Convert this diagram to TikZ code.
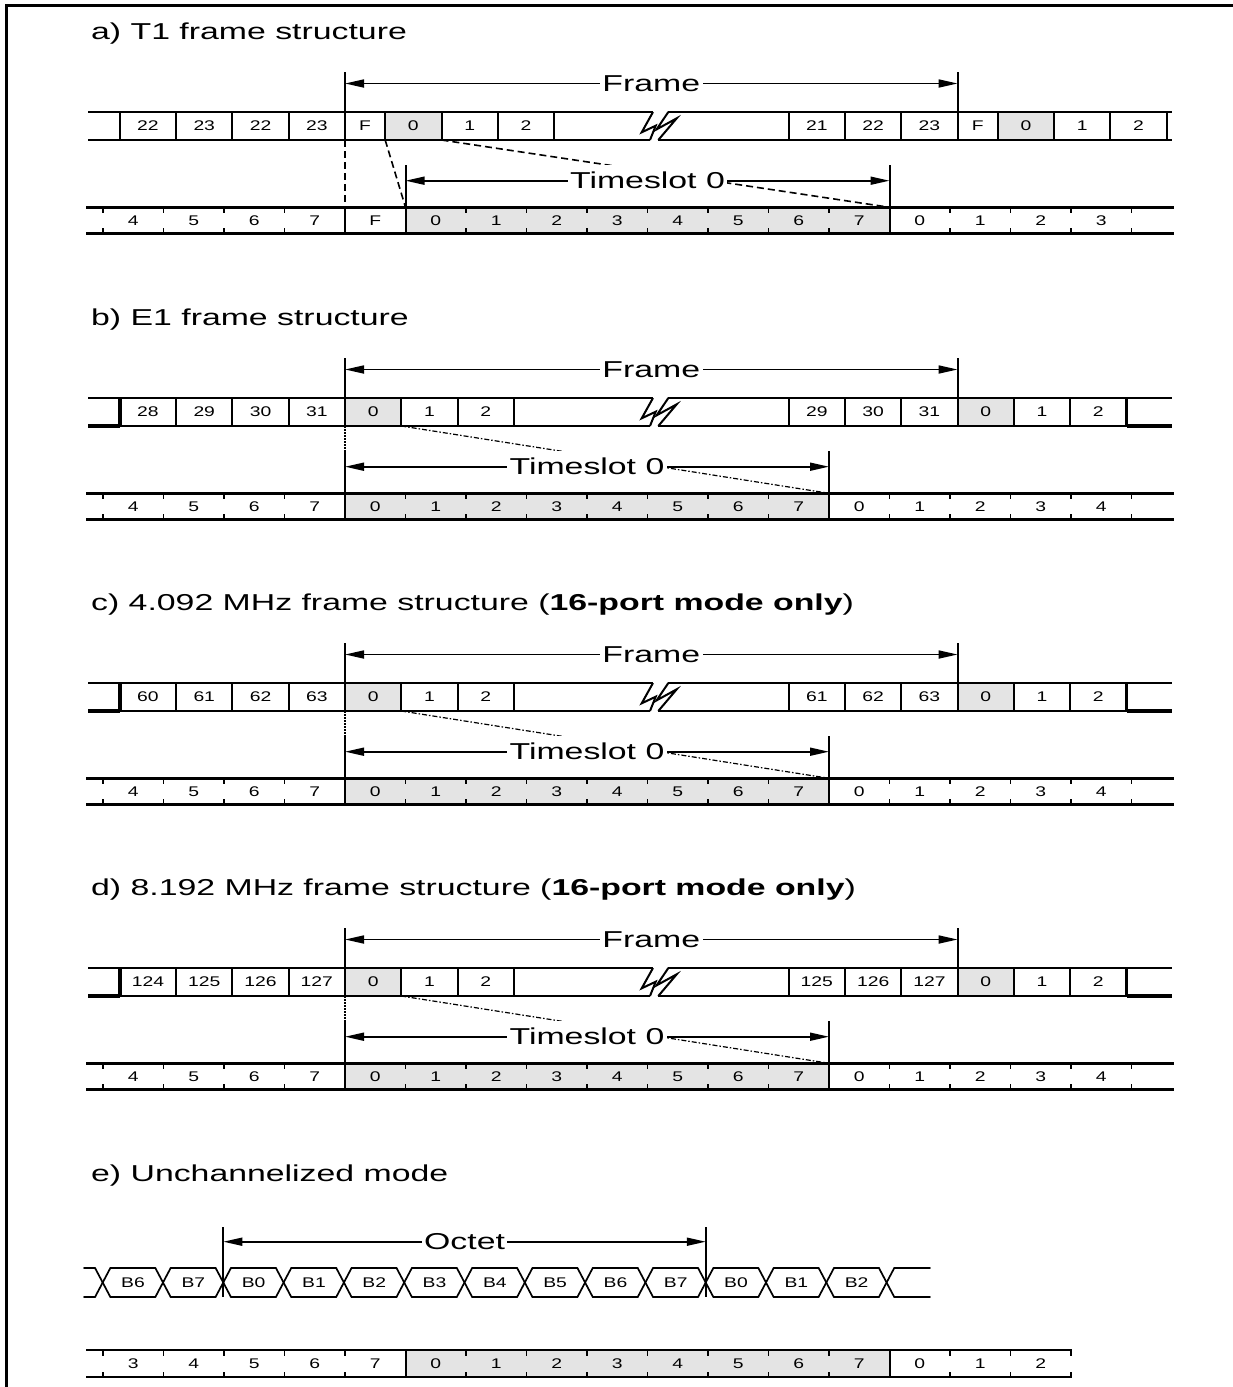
\documentclass[tikz,border=0pt]{standalone}
\usepackage{graphicx}
\usepackage{fontspec}
\setmainfont{Liberation Sans}
\usetikzlibrary{arrows.meta}
\definecolor{tsgray}{RGB}{228,228,228}
\newcommand{\hs}[1]{\scalebox{1.47}[1]{#1}}
\newcommand{\hc}[1]{\scalebox{1.38}[1]{#1}}
\newcommand{\bigfnt}{\fontsize{23}{27}\selectfont}
\newcommand{\smallfnt}{\fontsize{14}{16}\selectfont}
\tikzset{
  rowline/.style={line width=2.6pt},
  thickline/.style={line width=3.6pt},
  cellline/.style={line width=2pt},
  tickline/.style={line width=1.6pt},
  wave/.style={line width=1.7pt,line cap=round},
  dimarrow/.style={line width=1.7pt,{Triangle[length=19pt,width=8pt]}-{Triangle[length=19pt,width=8pt]}},
  lbl/.style={fill=white,inner xsep=2.5pt,inner ysep=7pt,font=\bigfnt},
  cell/.style={inner sep=0pt,font=\smallfnt},
  ttl/.style={anchor=base west,inner sep=0pt,font=\bigfnt},
  tsdash/.style={line width=1.6pt,dash pattern=on 7pt off 4pt},
  tsdashdot/.style={line width=1.2pt,dash pattern=on 5pt off 2pt on 1.5pt off 2pt},
  tsdot/.style={line width=1.2pt,dash pattern=on 1.5pt off 1.5pt},
}
% lightning break symbol
\newcommand{\bolt}[1]{%
  \draw[cellline,line join=miter] (653,112+#1) -- (641.7,132.3+#1) -- (655.7,125.7+#1) -- (650,140+#1);
  \draw[cellline,line join=miter] (668.3,112+#1) -- (656.7,129.3+#1) -- (676.7,118.3+#1) -- (658.3,140+#1);
}
% E1-type top row: #1 offset, #2 prefix, #3-#6 left labels, #7-#9 right labels
\newcommand{\eonetop}[9]{%
  \fill[tsgray] (345,112+#1) rectangle (401.3,140+#1);
  \fill[tsgray] (957.6,112+#1) rectangle (1013.9,140+#1);
  \draw[rowline] (88,112+#1) -- (653,112+#1);
  \draw[rowline] (668.3,112+#1) -- (1172,112+#1);
  \draw[rowline] (119.8,140+#1) -- (650,140+#1);
  \draw[rowline] (658.3,140+#1) -- (1126.5,140+#1);
  \draw[thickline] (88,140+#1) -- (119.8,140+#1);
  \draw[thickline] (1126.5,140+#1) -- (1172,140+#1);
  \bolt{#1}
  \foreach \x in {176.1,232.4,288.7,345,401.3,457.6,513.9,788.7,845,901.3,957.6,1013.9,1070.2}
    {\draw[cellline] (\x,112+#1) -- (\x,140+#1);}
  \draw[thickline] (119.8,112+#1) -- (119.8,140+#1);
  \draw[thickline] (1126.5,112+#1) -- (1126.5,140+#1);
  \node[cell] (#2t1) at (147.95,126+#1) {\hc{#3}};
  \node[cell] (#2t2) at (204.25,126+#1) {\hc{#4}};
  \node[cell] (#2t3) at (260.55,126+#1) {\hc{#5}};
  \node[cell] (#2t4) at (316.85,126+#1) {\hc{#6}};
  \node[cell] (#2t5) at (373.15,126+#1) {\hc{0}};
  \node[cell] (#2t6) at (429.45,126+#1) {\hc{1}};
  \node[cell] (#2t7) at (485.75,126+#1) {\hc{2}};
  \node[cell] (#2t8) at (816.85,126+#1) {\hc{#7}};
  \node[cell] (#2t9) at (873.15,126+#1) {\hc{#8}};
  \node[cell] (#2t10) at (929.45,126+#1) {\hc{#9}};
  \node[cell] (#2t11) at (985.75,126+#1) {\hc{0}};
  \node[cell] (#2t12) at (1042.05,126+#1) {\hc{1}};
  \node[cell] (#2t13) at (1098.35,126+#1) {\hc{2}};
}
% E1-type bit row and arrows: #1 offset, #2 prefix
\newcommand{\eonebits}[2]{%
  \fill[tsgray] (345,207.3+#1) rectangle (829,233.3+#1);
  \draw[rowline] (86,207.3+#1) -- (1174,207.3+#1);
  \draw[rowline] (86,233.3+#1) -- (1174,233.3+#1);
  \foreach \x in {103,163.5,224,284.5,405.5,466,526.5,587,647.5,708,768.5,889.5,950,1010.5,1071,1131.5}
    {\draw[tickline] (\x,207.3+#1) -- ++(0,5.5); \draw[tickline] (\x,233.3+#1) -- ++(0,-5.5);}
  \foreach \l [count=\i] in {4,5,6,7,0,1,2,3,4,5,6,7,0,1,2,3,4}
    {\node[cell] (#2b\i) at (72.75+60.5*\i,220.3+#1) {\hc{\l}};}
  \draw[cellline] (345,72+#1) -- (345,112+#1);
  \draw[cellline] (957.6,72+#1) -- (957.6,112+#1);
  \draw[tsdot] (345,140+#1) -- (345,165+#1);
  \draw[cellline] (345,165+#1) -- (345,233.3+#1);
  \draw[cellline] (829,165+#1) -- (829,233.3+#1);
  \draw[tsdashdot] (401.3,140+#1) -- (829,207.3+#1);
  \coordinate (#2fl) at (345,83.5+#1);
  \coordinate (#2fr) at (957.6,83.5+#1);
  \draw[dimarrow] (#2fl) -- (#2fr) node[lbl,midway] (#2frame) {\hs{Frame}};
  \coordinate (#2tl) at (345,180.7+#1);
  \coordinate (#2tr) at (829,180.7+#1);
  \draw[dimarrow] (#2tl) -- (#2tr) node[lbl,midway] (#2ts) {\hs{Timeslot 0}};
}
\begin{document}
\begin{tikzpicture}[x=1pt,y=-1pt]
\useasboundingbox (0,0) rectangle (1233,1387);
% border
\draw[line width=2.5pt] (6.5,1387) -- (6.5,5.5) -- (1233,5.5);

% ---------------- a) T1 ----------------
\node[ttl] (ta) at (91,39) {\hs{a) T1 frame structure}};
\fill[tsgray] (385.2,112) rectangle (441.5,140);
\fill[tsgray] (997.8,112) rectangle (1054.1,140);
\draw[rowline] (88,112) -- (653,112);
\draw[rowline] (668.3,112) -- (1172,112);
\draw[rowline] (88,140) -- (650,140);
\draw[rowline] (658.3,140) -- (1172,140);
\bolt{0}
\foreach \x in {119.8,176.1,232.4,288.7,345,385.2,441.5,497.8,554.1,788.7,845,901.3,957.6,997.8,1054.1,1110.4,1166.7}
  {\draw[cellline] (\x,112) -- (\x,140);}
\foreach \l/\x [count=\i] in {22/147.95,23/204.25,22/260.55,23/316.85,F/365.1,0/413.35,1/469.65,2/525.95,21/816.85,22/873.15,23/929.45,F/977.7,0/1025.95,1/1082.25,2/1138.55}
  {\node[cell] (at\i) at (\x,126) {\hc{\l}};}
\fill[tsgray] (405.5,207.3) rectangle (889.5,233.3);
\draw[rowline] (86,207.3) -- (1174,207.3);
\draw[rowline] (86,233.3) -- (1174,233.3);
\foreach \x in {103,163.5,224,284.5,466,526.5,587,647.5,708,768.5,829,950,1010.5,1071,1131.5}
  {\draw[tickline] (\x,207.3) -- ++(0,5.5); \draw[tickline] (\x,233.3) -- ++(0,-5.5);}
\foreach \l [count=\i] in {4,5,6,7,F,0,1,2,3,4,5,6,7,0,1,2,3}
  {\node[cell] (ab\i) at (72.75+60.5*\i,220.3) {\hc{\l}};}
\draw[cellline] (345,72) -- (345,112);
\draw[cellline] (957.6,72) -- (957.6,112);
\draw[cellline] (345,207.3) -- (345,233.3);
\draw[tsdash] (345,140) -- (345,207.3);
\draw[tsdash] (385.2,140) -- (405.5,207.3);
\draw[tsdash] (441.5,140) -- (889.5,207.3);
\draw[cellline] (405.5,165) -- (405.5,233.3);
\draw[cellline] (889.5,165) -- (889.5,233.3);
\coordinate (afl) at (345,83.5);
\coordinate (afr) at (957.6,83.5);
\draw[dimarrow] (afl) -- (afr) node[lbl,midway] (aframe) {\hs{Frame}};
\coordinate (atl) at (405.5,180.7);
\coordinate (atr) at (889.5,180.7);
\draw[dimarrow] (atl) -- (atr) node[lbl,midway] (ats) {\hs{Timeslot 0}};

% ---------------- b) E1 ----------------
\node[ttl] (tb) at (91,325) {\hs{b) E1 frame structure}};
\eonetop{286}{b}{28}{29}{30}{31}{29}{30}{31}
\eonebits{286}{b}

% ---------------- c) 4.092 MHz ----------------
\node[ttl] (tc) at (91,610) {\hs{c) 4.092 MHz frame structure (\textbf{16-port mode only})}};
\eonetop{571}{c}{60}{61}{62}{63}{61}{62}{63}
\eonebits{571}{c}

% ---------------- d) 8.192 MHz ----------------
\node[ttl] (td) at (91,895.5) {\hs{d) 8.192 MHz frame structure (\textbf{16-port mode only})}};
\eonetop{856}{d}{124}{125}{126}{127}{125}{126}{127}
\eonebits{856}{d}

% ---------------- e) Unchannelized ----------------
\node[ttl] (te) at (91,1181) {\hs{e) Unchannelized mode}};
\foreach \k in {0,...,13} {
  \pgfmathsetmacro{\cx}{102.7+60.3*\k}
  \draw[wave] (\cx-7.5,1268.3) -- (\cx+7.5,1296.7);
  \draw[wave] (\cx-7.5,1296.7) -- (\cx+7.5,1268.3);
}
\foreach \k in {0,...,12} {
  \pgfmathsetmacro{\cx}{102.7+60.3*\k}
  \draw[wave] (\cx+7.5,1268.3) -- (\cx+52.8,1268.3);
  \draw[wave] (\cx+7.5,1296.7) -- (\cx+52.8,1296.7);
}
\draw[wave] (84,1268.3) -- (95.2,1268.3);
\draw[wave] (84,1296.7) -- (95.2,1296.7);
\draw[wave] (894.1,1268.3) -- (930,1268.3);
\draw[wave] (894.1,1296.7) -- (930,1296.7);
\foreach \l [count=\i from 0] in {B6,B7,B0,B1,B2,B3,B4,B5,B6,B7,B0,B1,B2}
  {\node[cell] (eB\i) at (133.05+60.3*\i,1282.5) {\hc{\l}};}
\draw[cellline] (223.3,1227) -- (223.3,1296.7);
\draw[cellline] (705.8,1227) -- (705.8,1296.7);
\coordinate (eol) at (223.3,1241.7);
\coordinate (eor) at (705.8,1241.7);
\draw[dimarrow] (eol) -- (eor) node[lbl,midway] (eoct) {\hs{Octet}};
\fill[tsgray] (405.5,1350) rectangle (889.5,1377);
\draw[rowline] (86,1350) -- (1072,1350);
\draw[rowline] (86,1377) -- (1072,1377);
\foreach \x in {103,163.5,224,284.5,345,466,526.5,587,647.5,708,768.5,829,950,1010.5,1071}
  {\draw[tickline] (\x,1350) -- ++(0,5.5); \draw[tickline] (\x,1377) -- ++(0,-5.5);}
\draw[cellline] (405.5,1350) -- (405.5,1377);
\draw[cellline] (889.5,1350) -- (889.5,1377);
\foreach \l [count=\i] in {3,4,5,6,7,0,1,2,3,4,5,6,7,0,1,2}
  {\node[cell] (eb\i) at (72.75+60.5*\i,1363.5) {\hc{\l}};}
\end{tikzpicture}
\end{document}
